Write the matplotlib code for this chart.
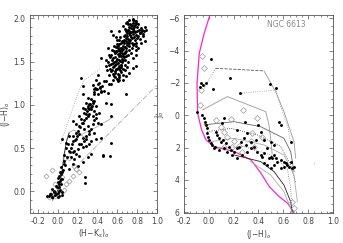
import numpy as np
import matplotlib
matplotlib.use('Agg')
from matplotlib import pyplot as plt
from matplotlib.ticker import MultipleLocator

# ---- left panel: (H-K)o vs (J-H)o ----
hk_dots = [0.721, 0.755, 0.788, 0.688, 0.738, 0.771, 0.805, 0.839, 0.872, 0.704,
           0.721, 0.755, 0.788, 0.671, 0.688, 0.822, 0.855, 0.889, 0.654, 0.721,
           0.62, 0.604, 0.637, 0.755, 0.788, 0.587, 0.671, 0.704, 0.62, 0.553,
           0.587, 0.654, 0.52, 0.57, 0.604, 0.637, 0.536, 0.58, 0.62, 0.671,
           0.688, 0.755, 0.788, 0.503, 0.52, 0.486, 0.435, 0.553, 0.604, 0.654,
           0.721, 0.755, 0.536, 0.486, 0.788, 0.805, 0.872, 0.839, 0.536, 0.553,
           0.721, 0.688,
           0.60, 0.63, 0.66, 0.70, 0.74, 0.77, 0.68, 0.72, 0.76, 0.80,
           0.62, 0.58, 0.56, 0.59, 0.63, 0.57, 0.60, 0.64, 0.66, 0.69,
           0.72, 0.75, 0.78, 0.81, 0.84, 0.86, 0.73, 0.70, 0.67, 0.64,
           0.61, 0.55, 0.52, 0.50, 0.54, 0.57, 0.61, 0.65, 0.68, 0.71,
           0.74, 0.79, 0.83, 0.76, 0.79, 0.70, 0.66, 0.62, 0.59, 0.58,
           0.61, 0.66, 0.62, 0.65, 0.55, 0.60, 0.63,
           0.56, 0.58, 0.60, 0.62, 0.64, 0.59, 0.61, 0.63, 0.57, 0.60,
           0.62, 0.64, 0.66, 0.68, 0.60, 0.62, 0.64, 0.66, 0.68, 0.70,
           0.72, 0.67, 0.69, 0.71, 0.73, 0.75, 0.70, 0.72, 0.74, 0.76,
           0.78, 0.74, 0.76, 0.78, 0.73, 0.80, 0.82, 0.77, 0.79, 0.65,
           0.67, 0.69, 0.58, 0.56, 0.54, 0.53, 0.58, 0.62, 0.64, 0.66,
           0.68, 0.70, 0.63, 0.65, 0.67, 0.69, 0.71, 0.65, 0.62, 0.59,
           0.57, 0.55, 0.53, 0.51, 0.49, 0.75, 0.77, 0.80, 0.83, 0.85,
           0.87, 0.76, 0.78, 0.71,
           0.234, 0.257, 0.351, 0.402, 0.435, 0.469, 0.503, 0.385, 0.419, 0.368,
           0.402, 0.425, 0.445, 0.385, 0.469, 0.368, 0.52, 0.62, 0.687, 0.25,
           0.301, 0.335, 0.284, 0.318, 0.351, 0.385, 0.301, 0.335, 0.368, 0.25,
           0.267, 0.318, 0.351, 0.284, 0.234, 0.217, 0.385, 0.419, 0.486, 0.536,
           0.536, 0.402, 0.435, 0.25, 0.217, 0.183, 0.15, 0.301, 0.267, 0.318,
           0.368, 0.183, 0.217, 0.15, 0.116, 0.049, 0.083, 0.15, 0.183, 0.25,
           0.284, 0.335, 0.385, 0.435, 0.536, 0.217, 0.25, 0.284, 0.318, 0.116,
           0.15, 0.183, 0.133, 0.167, 0.217, 0.301, 0.335, 0.452, 0.15, 0.2,
           0.25, 0.27, 0.116, 0.066, 0.032, 0.022, 0.009, 0.049, -0.001, -0.018,
           0.015, -0.052, -0.035, -0.069, -0.085, -0.018, 0.015, 0.049, -0.001, -0.102,
           -0.052, -0.03, -0.06, 0.0, 0.02, -0.01, 0.03, 0.0, 0.02, -0.04,
           0.04, -0.08, 0.01, 0.03, 0.05, 0.06, 0.08, 0.07, 0.10, 0.53,
           0.46, 0.277,
           0.29, 0.31, 0.33, 0.30, 0.32, 0.34, 0.27, 0.28, 0.30, 0.26,
           0.24, 0.22, 0.20, 0.19, 0.17, 0.14, 0.13, 0.12, 0.16, 0.20,
           0.23, 0.26, 0.28, 0.31, 0.33, 0.35, 0.37, 0.39, 0.41, 0.43,
           0.40, 0.38, 0.44, 0.36, 0.37, 0.35, 0.09, 0.06, 0.04, 0.03,
           0.01]
jh_dots = [1.983, 1.994, 1.971, 1.944, 1.925, 1.906, 1.933, 1.887, 1.906, 1.868,
           1.829, 1.849, 1.81, 1.81, 1.772, 1.829, 1.791, 1.868, 1.734, 1.734,
           1.753, 1.676, 1.657, 1.695, 1.676, 1.619, 1.6, 1.58, 1.58, 1.542,
           1.504, 1.523, 1.465, 1.446, 1.427, 1.465, 1.389, 1.37, 1.35, 1.408,
           1.331, 1.542, 1.58, 1.657, 1.58, 1.523, 1.542, 1.293, 1.274, 1.293,
           1.37, 1.427, 1.236, 1.274, 1.446, 1.657, 1.734, 1.714, 1.849, 1.81,
           1.638, 1.657,
           1.70, 1.62, 1.68, 1.72, 1.78, 1.86, 1.88, 1.90, 1.95, 1.90,
           1.52, 1.55, 1.48, 1.42, 1.40, 1.33, 1.30, 1.46, 1.56, 1.62,
           1.68, 1.72, 1.75, 1.80, 1.84, 1.82, 1.81, 1.80, 1.75, 1.72,
           1.66, 1.40, 1.35, 1.40, 1.58, 1.62, 1.59, 1.60, 1.52, 1.50,
           1.60, 1.64, 1.76, 1.88, 1.95, 1.96, 1.91, 1.85, 1.78, 1.46,
           1.36, 1.34, 1.45, 1.50, 1.52, 1.75, 1.78,
           1.36, 1.39, 1.41, 1.43, 1.44, 1.47, 1.49, 1.51, 1.50, 1.53,
           1.56, 1.57, 1.59, 1.61, 1.62, 1.64, 1.66, 1.65, 1.67, 1.69,
           1.71, 1.71, 1.74, 1.76, 1.75, 1.77, 1.83, 1.85, 1.84, 1.82,
           1.84, 1.89, 1.91, 1.92, 1.93, 1.86, 1.87, 1.70, 1.72, 1.53,
           1.55, 1.56, 1.60, 1.44, 1.47, 1.42, 1.32, 1.32, 1.38, 1.42,
           1.46, 1.44, 1.60, 1.63, 1.80, 1.85, 1.87, 1.74, 1.70, 1.67,
           1.68, 1.63, 1.55, 1.50, 1.45, 1.66, 1.79, 1.77, 1.83, 1.87,
           1.85, 1.98, 1.97, 1.94,
           1.312, 1.216, 1.235, 1.35, 1.159, 1.274, 1.14, 1.293, 1.255, 1.178,
           1.236, 1.209, 1.224, 1.178, 1.159, 1.121, 1.247, 1.293, 1.121, 1.121,
           1.082, 1.063, 1.025, 1.006, 1.025, 0.987, 0.967, 0.948, 0.929, 0.967,
           0.91, 0.891, 0.872, 0.852, 0.833, 0.872, 0.852, 0.91, 1.025, 1.006,
           0.872, 0.795, 0.776, 0.795, 0.757, 0.776, 0.814, 0.757, 0.718, 0.699,
           0.68, 0.68, 0.661, 0.642, 0.642, 0.603, 0.565, 0.584, 0.603, 0.622,
           0.642, 0.584, 0.603, 0.622, 0.565, 0.546, 0.508, 0.527, 0.546, 0.469,
           0.45, 0.431, 0.393, 0.374, 0.412, 0.393, 0.431, 0.412, 0.316, 0.297,
           0.335, 0.10, 0.259, 0.354, 0.278, 0.22, 0.182, 0.144, 0.105, 0.067,
           0.048, 0.029, -0.01, -0.029, -0.048, -0.029, 0.01, -0.01, -0.067, -0.056,
           -0.067, -0.04, -0.06, -0.02, 0.02, 0.05, 0.08, 0.15, 0.12, 0.0,
           -0.04, -0.03, -0.05, 0.20, 0.25, 0.42, 0.50, 0.30, 0.55, 0.41,
           0.42, 0.17,
           0.93, 0.95, 0.97, 0.99, 1.01, 0.99, 0.95, 0.89, 0.87, 0.83,
           0.79, 0.74, 0.70, 0.64, 0.59, 0.55, 0.50, 0.45, 0.47, 0.49,
           0.55, 0.58, 0.61, 0.66, 0.72, 0.78, 0.82, 0.90, 1.13, 1.20,
           1.18, 1.20, 1.15, 1.15, 1.05, 1.04, 0.40, 0.32, 0.22, 0.14,
           0.08]

hk_open = [-0.112, -0.052, 0.167, 0.217, 0.15, 0.083, 0.032, -0.025, -0.085, 0.049,
           0.116, 0.076, 0.183, -0.06, 0.0, 0.06, 0.11, -0.03]
jh_open = [0.174, 0.251, 0.289, 0.22, 0.182, 0.086, -0.029, -0.048, -0.067, 0.163,
           0.381, 0.389, 0.259, -0.02, 0.05, 0.02, 0.12, 0.09]

ms_hk = [-0.05, -0.02, 0.01, 0.04, 0.066, 0.09, 0.116]
ms_jh = [-0.1, -0.03, 0.03, 0.2, 0.43, 0.58, 0.68]
turn_hk = [0.116, 0.16, 0.2, 0.25, 0.3]
turn_jh = [0.68, 0.71, 0.69, 0.64, 0.62]
ctts_hk = [0.2, 0.3, 0.4, 0.56]
ctts_jh = [0.64, 0.69, 0.75, 0.86]
redd_hk = [0.23, 1.0]
redd_jh = [0.34, 1.23]
dot_hk = [0.03, 0.2, 0.26, 0.42]
dot_jh = [0.55, 1.12, 1.28, 1.41]

# ---- right panel: (J-H)o vs Jo ----
zams_jh = [0.009, -0.037, -0.077, -0.095, -0.09, -0.058, -0.023, 0.044, 0.205, 0.34,
           0.42, 0.487, 0.567, 0.635, 0.688]
zams_j = [-6.2, -5.07, -3.83, -1.98, -0.12, 0.91, 1.53, 1.95, 2.25, 2.77,
          3.59, 4.42, 5.04, 5.45, 6.06]

isochrones = [
    # (jh, j, style, colour)
    ([0.055, 0.444], [-2.9, -2.74], '--', '#555555'),
    ([0.444, 0.538, 0.605, 0.686, 0.70], [-2.74, -1.46, -0.22, 1.64, 2.67], '-', '#999999'),
    ([0.055, 0.0, -0.04], [-2.9, -2.2, -1.6], ':', '#888888'),
    ([0.25, 0.54, 0.58, 0.64, 0.66], [-1.35, -1.56, -0.5, 0.8, 1.8], ':', '#999999'),
    ([-0.052, 0.149, 0.458, 0.485, 0.498, 0.51], [-0.32, -1.15, -0.22, 0.6, 1.43, 2.4], '-', '#999999'),
    ([-0.039, 0.203, 0.417, 0.605, 0.659, 0.686], [0.6, 0.4, 0.71, 1.43, 2.25, 3.49], '-', '#666666'),
    ([-0.012, 0.176, 0.39, 0.579, 0.659, 0.70], [1.02, 0.81, 1.22, 1.94, 3.08, 4.2], ':', '#333333'),
    ([0.015, 0.203, 0.444, 0.605, 0.686, 0.713], [1.64, 1.43, 1.84, 2.46, 3.7, 5.35], '-', '#aaaaaa'),
    ([0.068, 0.283, 0.498, 0.632, 0.659, 0.672], [2.05, 1.94, 2.46, 3.28, 4.52, 5.96], ':', '#777777'),
    ([0.203, 0.417, 0.525, 0.605, 0.659, 0.672], [2.46, 2.87, 3.49, 4.32, 5.35, 6.05], '-', '#222222'),
    ([0.337, 0.498, 0.605, 0.659, 0.67], [2.87, 3.7, 4.73, 5.76, 6.05], '-', '#aaaaaa'),
]

jh_r_dots = [0.02, 0.17, -0.06, -0.044, -0.025, -0.071, 0.036, 0.251, 0.493, 0.538,
             -0.093, -0.052, -0.039, -0.034, -0.025, -0.017, -0.012, -0.007, 0.001, 0.015,
             0.028, 0.042, 0.122, 0.109, 0.289, 0.396, 0.23, 0.31, 0.417, 0.055,
             0.068, 0.082, 0.095, 0.117, 0.136, 0.162, 0.176, 0.203, 0.224, 0.243,
             0.256, 0.283, 0.297, 0.337, 0.364, 0.39, 0.417, 0.431, 0.444, 0.471,
             0.485, 0.498, 0.511, 0.525, 0.538, 0.552, 0.579, 0.605, 0.619, 0.632,
             0.646, 0.659, 0.672, 0.686, 0.444, 0.471, 0.498, 0.525, 0.579, 0.605,
             0.565, 0.579, 0.659, 0.498, 0.525, 0.444, 0.377, 0.337, 0.31, 0.27,
             0.23, 0.189, 0.149, 0.122, 0.082, 0.047]
j_r_dots = [-3.46, -2.32, -1.97, -1.87, -1.97, -1.77, -1.62, -1.40, -1.95, -1.66,
            -0.22, -0.01, 0.19, 0.40, 0.60, 0.81, 1.12, 1.33, 1.53, 1.74,
            1.84, 2.05, 0.19, 0.50, 0.40, 0.60, 0.91, 1.12, 1.02, 1.02,
            1.22, 1.43, 1.64, 1.53, 1.74, 1.94, 2.15, 2.25, 2.05, 1.94,
            1.64, 1.43, 1.84, 2.05, 1.94, 2.25, 2.46, 2.56, 2.36, 2.05,
            2.67, 2.56, 2.67, 2.46, 2.67, 2.87, 2.77, 2.87, 2.98, 3.08,
            3.18, 2.87, 3.29, 3.18, 2.98, 3.08, 3.29, 3.08, 3.29, 3.18,
            0.40, 0.60, 1.64, 1.64, 1.84, 1.53, 1.53, 1.64, 2.25, 2.46,
            2.67, 2.46, 2.25, 2.05, 2.15, 1.94]

jh_r_open = [-0.052, -0.039, 0.055, 0.176, 0.278, 0.385, 0.122, 0.149, 0.203, 0.243,
             0.27, 0.337, 0.35, 0.095, 0.189, 0.122, 0.431, 0.364, 0.672, 0.686,
             -0.066, -0.071]
j_r_open = [-3.68, -2.90, 0.29, 0.23, -0.32, 0.19, 1.02, 1.33, 1.59, 1.88,
            2.29, 1.59, 1.12, 0.71, 1.94, 1.94, 1.37, 1.94, 5.35, 5.76,
            -1.56, -0.63]

plt.rcParams['font.family'] = 'DejaVu Sans'
plt.rcParams['font.size'] = 5.5
txt = '#444444'

fig = plt.figure(figsize=(3.43, 2.43), dpi=100)
ax1 = fig.add_axes([0.0866, 0.1235, 0.372, 0.815])
ax2 = fig.add_axes([0.5364, 0.1235, 0.4344, 0.815])

for ax in (ax1, ax2):
    ax.tick_params(which='both', direction='in', top=True, right=True,
                   labelsize=5.5, labelcolor=txt, color='#555555', width=0.5, pad=3)
    ax.tick_params(which='major', length=3)
    ax.tick_params(which='minor', length=1.5)
    for s in ax.spines.values():
        s.set_linewidth(0.6)
        s.set_color('#555555')

# left
ax1.plot(ms_hk, ms_jh, '-', color='#333333', lw=0.7)
ax1.plot(turn_hk, turn_jh, '-', color='#aaaaaa', lw=0.6)
ax1.plot(ctts_hk, ctts_jh, '-', color='#aaaaaa', lw=0.6)
ax1.plot(redd_hk, redd_jh, '-.', color='#aaaaaa', lw=0.6)
ax1.plot(dot_hk, dot_jh, ':', color='#999999', lw=0.6)
ax1.plot(hk_open, jh_open, 'D', mfc='none', mec='#999999', ms=2.6, mew=0.5)
ax1.plot(hk_dots, jh_dots, 'o', color='black', ms=2.1, mew=0)
ax1.set_xlim(-0.28, 1.0)
ax1.set_ylim(-0.25, 2.04)
ax1.xaxis.set_major_locator(MultipleLocator(0.2))
ax1.xaxis.set_minor_locator(MultipleLocator(0.05))
ax1.yaxis.set_major_locator(MultipleLocator(0.5))
ax1.yaxis.set_minor_locator(MultipleLocator(0.1))
ax1.xaxis.set_major_formatter(plt.FuncFormatter(lambda v, p: '%.1f' % v))
ax1.yaxis.set_major_formatter(plt.FuncFormatter(lambda v, p: '%.1f' % v))
ax1.set_xlabel('(H$-$K$_s$)$_o$', color=txt, labelpad=1)
ax1.set_ylabel('(J$-$H)$_o$', color=txt, labelpad=1)

# right
ax2.plot(zams_jh, zams_j, '-', color='#ff22cc', lw=0.9)
for xs, ys, ls, c in isochrones:
    ax2.plot(xs, ys, ls, color=c, lw=0.6)
ax2.plot(jh_r_open, j_r_open, 'D', mfc='none', mec='#999999', ms=3.0, mew=0.5)
ax2.plot(jh_r_dots, j_r_dots, 'o', color='black', ms=2.1, mew=0)
ax2.plot([0.847], [2.98], 'o', color='#bbbbbb', ms=0.8, mew=0)
ax2.set_xlim(-0.2, 1.0)
ax2.set_ylim(6.05, -6.2)
ax2.xaxis.set_major_locator(MultipleLocator(0.2))
ax2.xaxis.set_minor_locator(MultipleLocator(0.05))
ax2.yaxis.set_major_locator(MultipleLocator(2))
ax2.yaxis.set_minor_locator(MultipleLocator(0.5))
ax2.xaxis.set_major_formatter(plt.FuncFormatter(lambda v, p: '%.1f' % v))
ax2.set_xlabel('(J$-$H)$_o$', color=txt, labelpad=1)
ax2.set_ylabel('J$_o$', color=txt, labelpad=2)
ax2.text(0.56, 0.94, 'NGC 6613', transform=ax2.transAxes, color='#888888', fontsize=5.5)

fig.savefig('out.png', dpi=100)
